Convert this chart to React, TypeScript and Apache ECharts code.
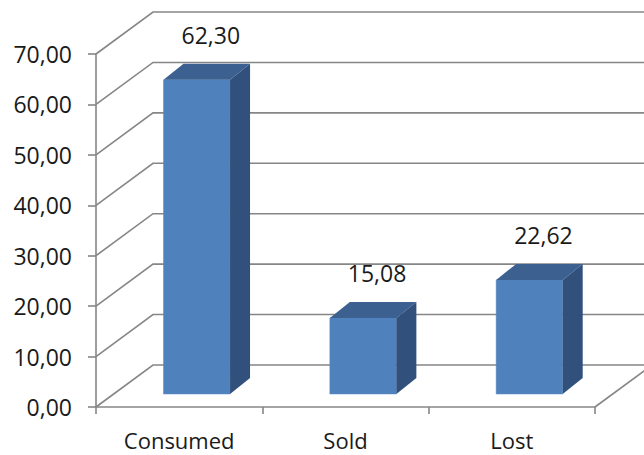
import React, { useEffect, useRef } from "react";
import * as echarts from "echarts";

const categories = ["Consumed", "Sold", "Lost"];
const values = [62.3, 15.08, 22.62];
const yTicks = [0, 10, 20, 30, 40, 50, 60, 70];

const FONT = "Open Sans";
const TEXT = "#1a1a1a";
const GRID = "#868686";
const WALL_DX = 57;
const WALL_DY = -42;
const BAR_OFF_X = 17.6;
const BAR_OFF_Y = -13;
const BAR_DX = 20;
const BAR_DY = -16;

const fmt = (v: number) => v.toFixed(2).replace(".", ",");

export default function App() {
  const ref = useRef<HTMLDivElement>(null);
  useEffect(() => {
    if (!ref.current) return;
    const chart = echarts.init(ref.current, undefined, { renderer: "svg" });
    chart.setOption({
      animation: false,
      backgroundColor: "#ffffff",
      grid: { left: 96, top: 54, width: 499, height: 353, containLabel: false },
      xAxis: {
        type: "category",
        data: categories,
        axisLine: { lineStyle: { color: GRID, width: 1.6 } },
        axisTick: { show: true, length: 7, lineStyle: { color: GRID, width: 1.6 } },
        axisLabel: { color: TEXT, fontFamily: FONT, fontSize: 22, margin: 22 },
        splitLine: { show: false },
      },
      yAxis: {
        type: "value",
        min: 0,
        max: 70,
        interval: 10,
        axisLine: { show: true, lineStyle: { color: GRID, width: 1.6 } },
        axisTick: { show: true, length: 8, lineStyle: { color: GRID, width: 1.6 } },
        axisLabel: { color: TEXT, fontFamily: FONT, fontSize: 23, margin: 24, formatter: (v: number) => fmt(v) },
        splitLine: { show: false },
      },
      series: [
        {
          type: "custom",
          z: 1,
          silent: true,
          data: yTicks.map((t) => [0, t]),
          renderItem: (params: any, api: any) => {
            const v = api.value(1);
            const p = api.coord([0, v]);
            const cs = params.coordSys;
            const x0 = cs.x;
            const x1 = cs.x + cs.width;
            const children: any[] = [
              {
                type: "polyline",
                shape: {
                  points: [
                    [x0, p[1]],
                    [x0 + WALL_DX, p[1] + WALL_DY],
                    [x1 + WALL_DX, p[1] + WALL_DY],
                  ],
                },
                style: { stroke: GRID, lineWidth: 1.6, fill: null },
              },
            ];
            if (v === 0) {
              children.push({
                type: "line",
                shape: { x1: x1, y1: p[1], x2: x1 + WALL_DX, y2: p[1] + WALL_DY },
                style: { stroke: GRID, lineWidth: 1.6 },
              });
            }
            return { type: "group", children };
          },
        },
        {
          type: "custom",
          z: 3,
          data: values.map((v, i) => [i, v]),
          renderItem: (params: any, api: any) => {
            const idx = api.value(0);
            const v = api.value(1);
            const base = api.coord([idx, 0]);
            const top = api.coord([idx, v]);
            const w = api.size([1, 0])[0] * 0.4;
            const fx = base[0] + BAR_OFF_X;
            const by = base[1] + BAR_OFF_Y;
            const ty = top[1] + BAR_OFF_Y;
            const l = fx - w / 2;
            const r = fx + w / 2;
            return {
              type: "group",
              children: [
                {
                  type: "rect",
                  shape: { x: l, y: ty, width: w, height: by - ty },
                  style: { fill: "#4F81BD", stroke: "#5A8BC6", lineWidth: 0.5 },
                },
                {
                  type: "polygon",
                  shape: {
                    points: [
                      [l, ty],
                      [r, ty],
                      [r + BAR_DX, ty + BAR_DY],
                      [l + BAR_DX, ty + BAR_DY],
                    ],
                  },
                  style: { fill: "#3C6191" },
                },
                {
                  type: "polygon",
                  shape: {
                    points: [
                      [r, ty],
                      [r + BAR_DX, ty + BAR_DY],
                      [r + BAR_DX, by + BAR_DY],
                      [r, by],
                    ],
                  },
                  style: { fill: "#31517C" },
                },
                {
                  type: "text",
                  x: fx + 14,
                  y: ty + BAR_DY - 29,
                  style: {
                    text: fmt(v),
                    fill: TEXT,
                    font: `23px "${FONT}"`,
                    align: "center",
                    verticalAlign: "middle",
                  },
                },
              ],
            };
          },
        },
      ],
    });
    return () => chart.dispose();
  }, []);
  return <div ref={ref} style={{ width: 644, height: 455, position: "absolute", left: 0, top: 0 }} />;
}
